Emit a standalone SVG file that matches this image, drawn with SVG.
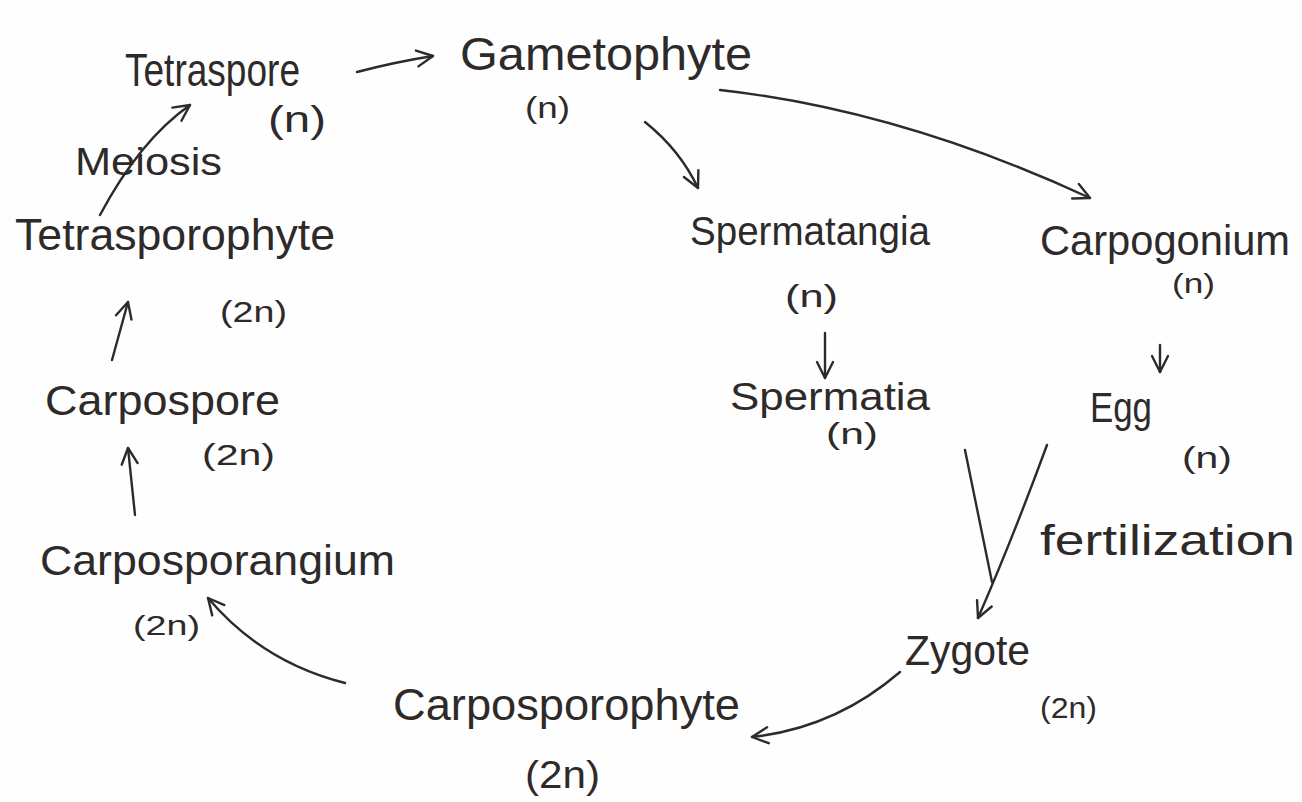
<svg xmlns="http://www.w3.org/2000/svg" width="1302" height="802" viewBox="0 0 1302 802">
<style>
text{font-family:"Liberation Sans","DejaVu Sans",sans-serif;fill:#2e2a2a;}
.c path{fill:none;stroke:#2e2a2a;stroke-width:2.4;stroke-linecap:round;}
</style>
<defs>
<marker id="ah" viewBox="0 0 20 20" refX="18" refY="10" markerWidth="20" markerHeight="20" markerUnits="userSpaceOnUse" orient="auto">
<path d="M2,2 L18,10 L2,18" fill="none" stroke="#2e2a2a" stroke-width="2.4" stroke-linecap="round" stroke-linejoin="round"/>
</marker>
</defs>
<rect width="1302" height="802" fill="#fefefe"/>
<g class="c">
<path d="M357,72 Q395,62 433,56" marker-end="url(#ah)"/>
<path d="M645,122 Q680,150 698,188" marker-end="url(#ah)"/>
<path d="M720,90 Q900,110 1090,198" marker-end="url(#ah)"/>
<path d="M825,333 L825,378" marker-end="url(#ah)"/>
<path d="M1160,345 L1160,372" marker-end="url(#ah)"/>
<path d="M965,450 L992,582"/>
<path d="M1047,445 Q1012,540 978,618" marker-end="url(#ah)"/>
<path d="M900,672 Q835,728 752,737" marker-end="url(#ah)"/>
<path d="M345,683 Q262,662 208,598" marker-end="url(#ah)"/>
<path d="M135,515 L128,448" marker-end="url(#ah)"/>
<path d="M112,360 L128,302" marker-end="url(#ah)"/>
<path d="M100,215 Q140,140 190,105" marker-end="url(#ah)"/>
</g>
<g id="tetraspore"><text x="125" y="86" font-size="46" textLength="175" lengthAdjust="spacingAndGlyphs">Tetraspore</text><text x="268" y="132" font-size="36" textLength="58" lengthAdjust="spacingAndGlyphs">(n)</text></g>
<g id="gametophyte"><text x="460" y="70" font-size="46" textLength="292" lengthAdjust="spacingAndGlyphs">Gametophyte</text><text x="525" y="118" font-size="30" textLength="45" lengthAdjust="spacingAndGlyphs">(n)</text></g>
<g id="spermatangia"><text x="690" y="245" font-size="40" textLength="240" lengthAdjust="spacingAndGlyphs">Spermatangia</text><text x="785" y="307" font-size="32" textLength="53" lengthAdjust="spacingAndGlyphs">(n)</text></g>
<g id="carpogonium"><text x="1040" y="255" font-size="42" textLength="250" lengthAdjust="spacingAndGlyphs">Carpogonium</text><text x="1172" y="293" font-size="28" textLength="43" lengthAdjust="spacingAndGlyphs">(n)</text></g>
<g id="spermatia"><text x="730" y="410" font-size="38" textLength="200" lengthAdjust="spacingAndGlyphs">Spermatia</text><text x="826" y="444" font-size="30" textLength="52" lengthAdjust="spacingAndGlyphs">(n)</text></g>
<g id="egg"><text x="1090" y="422" font-size="42" textLength="62" lengthAdjust="spacingAndGlyphs">Egg</text><text x="1182" y="468" font-size="30" textLength="50" lengthAdjust="spacingAndGlyphs">(n)</text></g>
<g id="fertilization"><text x="1040" y="555" font-size="42" textLength="255" lengthAdjust="spacingAndGlyphs">fertilization</text></g>
<g id="zygote"><text x="905" y="665" font-size="42" textLength="125" lengthAdjust="spacingAndGlyphs">Zygote</text><text x="1040" y="718" font-size="30" textLength="57" lengthAdjust="spacingAndGlyphs">(2n)</text></g>
<g id="carposporophyte"><text x="393" y="720" font-size="44" textLength="347" lengthAdjust="spacingAndGlyphs">Carposporophyte</text><text x="525" y="788" font-size="38" textLength="75" lengthAdjust="spacingAndGlyphs">(2n)</text></g>
<g id="carposporangium"><text x="40" y="575" font-size="42" textLength="355" lengthAdjust="spacingAndGlyphs">Carposporangium</text><text x="133" y="635" font-size="28" textLength="67" lengthAdjust="spacingAndGlyphs">(2n)</text></g>
<g id="carpospore"><text x="45" y="415" font-size="42" textLength="235" lengthAdjust="spacingAndGlyphs">Carpospore</text><text x="202" y="465" font-size="30" textLength="73" lengthAdjust="spacingAndGlyphs">(2n)</text></g>
<g id="tetrasporophyte"><text x="15" y="250" font-size="44" textLength="320" lengthAdjust="spacingAndGlyphs">Tetrasporophyte</text><text x="220" y="322" font-size="30" textLength="67" lengthAdjust="spacingAndGlyphs">(2n)</text></g>
<g id="meiosis"><text x="75" y="175" font-size="38" textLength="147" lengthAdjust="spacingAndGlyphs">Meiosis</text></g>
</svg>
